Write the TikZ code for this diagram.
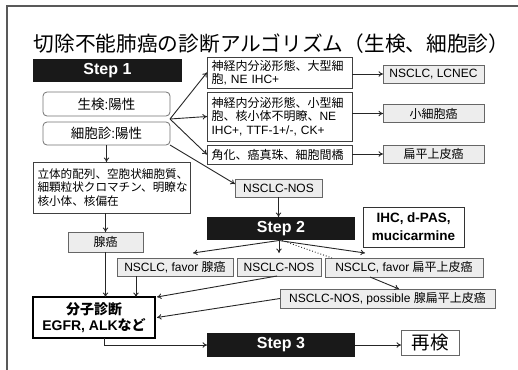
\documentclass[tikz,border=0pt]{standalone}
\usepackage{fontspec}
\setmainfont{Liberation Sans}
\newfontfamily\cjk{Noto Sans CJK JP}
\usetikzlibrary{arrows.meta,calc}
\begin{document}
\begin{tikzpicture}[x=1pt,y=-1pt,
  every node/.style={inner sep=0pt, outer sep=0pt},
  gbox/.style={draw=black!60, fill=black!7, line width=0.8pt, font=\fontsize{12}{13.5}\selectfont, align=center},
  wbox/.style={draw=black!75, fill=white, line width=0.9pt, font=\fontsize{12}{13.5}\selectfont, align=left},
  rbox/.style={draw=black!55, fill=white, rounded corners=4pt, line width=0.8pt, font=\fontsize{13.5}{15}\selectfont},
  stepbox/.style={fill=black!90, text=white, font=\bfseries\fontsize{16}{18}\selectfont},
  arr/.style={-{To[length=4.5pt,width=5.5pt]}, line width=0.9pt, draw=black!85},
]
\useasboundingbox (0,0) rectangle (518,369);
\draw[black!65, line width=1.3pt] (7,375) -- (7,6) -- (525,6);

\node[font=\cjk\fontsize{20.7}{22}\selectfont] (title) at (271.5,44) {切除不能肺癌の診断アルゴリズム（生検、細胞診）};

% Step 1 column
\node[stepbox, minimum width=149pt, minimum height=23pt] (step1) at (107.5,70.5) {Step 1};
\node[rbox, minimum width=127pt, minimum height=24pt] (seiken) at (106.5,104) {{\cjk 生検}:{\cjk 陽性}};
\node[rbox, minimum width=127pt, minimum height=23pt] (saibou) at (106.5,133.5) {{\cjk 細胞診}:{\cjk 陽性}};
\node[wbox, font=\cjk\fontsize{11.6}{13.5}\selectfont, text width=148pt, inner xsep=4.5pt, minimum height=51pt] (rittai) at (111.5,187.5) {立体的配列、空胞状細胞質、\\細顆粒状クロマチン、明瞭な\\核小体、核偏在};
\node[gbox, minimum width=75pt, minimum height=20pt] (senga) at (105.5,242) {{\cjk 腺癌}};
\node[draw=black, fill=white, line width=1.1pt, minimum width=122pt, minimum height=41pt, align=center, font=\bfseries\fontsize{14}{15.5}\selectfont] (bunshi) at (94,317.5) {{\cjk 分子診断}\\EGFR, ALK{\cjk など}};

% middle column
\node[wbox, text width=136pt, inner xsep=4.5pt, minimum height=31pt] (boxA) at (279.5,72.5) {{\cjk 神経内分泌形態、大型細}\\{\cjk 胞}, NE IHC+};
\node[wbox, text width=136pt, inner xsep=4.5pt, minimum height=49pt] (boxB) at (279.5,116.5) {{\cjk 神経内分泌形態、小型細}\\{\cjk 胞、核小体不明瞭、}NE\\IHC+, TTF-1+/-, CK+};
\node[wbox, text width=136pt, inner xsep=4.5pt, minimum height=19pt] (boxC) at (279.5,154.5) {{\cjk 角化、癌真珠、細胞間橋}};

% results
\node[gbox, minimum width=101pt, minimum height=18pt] (lcnec) at (433.5,74) {NSCLC, LCNEC};
\node[gbox, minimum width=101pt, minimum height=18pt] (sclc) at (433.5,113.5) {{\cjk 小細胞癌}};
\node[gbox, minimum width=101pt, minimum height=18pt] (sq) at (433.5,154) {{\cjk 扁平上皮癌}};
\node[gbox, minimum width=87pt, minimum height=18pt] (nos1) at (278.5,188) {NSCLC-NOS};

% Step 2
\node[stepbox, minimum width=148pt, minimum height=23pt] (step2) at (281,228.5) {Step 2};
\node[draw=black!80, fill=white, line width=0.9pt, minimum width=101pt, minimum height=40pt, align=center, font=\bfseries\fontsize{13.5}{18}\selectfont] (ihc) at (413.5,227) {IHC, d-PAS,\\mucicarmine};
\node[gbox, minimum width=116pt, minimum height=18pt] (favad) at (175,267) {NSCLC, favor {\cjk 腺癌}};
\node[gbox, minimum width=84pt, minimum height=18pt] (nos2) at (279,267) {NSCLC-NOS};
\node[gbox, minimum width=158pt, minimum height=19pt] (favsq) at (404,267.5) {NSCLC, favor {\cjk 扁平上皮癌}};
\node[gbox, minimum width=215pt, minimum height=19pt] (possible) at (387.5,298.5) {NSCLC-NOS, possible {\cjk 腺扁平上皮癌}};

% Step 3
\node[stepbox, minimum width=148pt, minimum height=24pt] (step3) at (281,345) {Step 3};
\node[draw=black!60, fill=white, line width=0.8pt, minimum width=58pt, minimum height=25pt, font=\cjk\fontsize{18.5}{20}\selectfont] (saiken) at (430,342.5) {再検};

% connectors
\coordinate (fk) at (170,119);
\draw[arr] (fk) -- (boxA.west);
\draw[arr] (fk) -- (boxB.west);
\draw[arr] (fk) -- (boxC.west);
\draw[arr] (saibou.south east) -- ([yshift=4pt]nos1.west);
\draw[arr] (saibou.south) -- (saibou.south |- rittai.north);
\draw[arr] (rittai.south -| senga.north) -- (senga.north);
\draw[arr] (senga.south) -- (senga.south |- bunshi.north);
\coordinate (fa) at ($(favad.south west)+(19,0)$);
\draw[arr] (fa) -- (fa |- bunshi.north);
\draw[arr] (boxA.east |- lcnec.west) -- (lcnec.west);
\draw[arr] (boxB.east |- sclc.west) -- (sclc.west);
\draw[arr] (boxC.east |- sq.west) -- (sq.west);
\draw[arr] (nos1.south) -- (nos1.south |- step2.north);
\coordinate (s2) at (279,240.5);
\draw[arr] (s2) -- ($(favad.north)+(18,-5)$);
\draw[arr, shorten >=5pt] (s2) -- (nos2.north);
\draw[arr] (s2) -- ($(favsq.north west)+(40,-5)$);
\draw[dotted, line width=0.9pt, black!85] ($(s2)+(3,0)$) -- ($(favsq.north west)+(7,0)$);
\draw[arr] ($(favsq.south)+(-34,0)$) -- ($(possible.north)+(11.5,0)$);
\draw[arr] ($(nos2.south)+(-2,0)$) -- ([xshift=2pt]bunshi.north east);
\draw[arr] (possible.west) -- ([xshift=2pt]bunshi.east);
\draw[arr] ([xshift=10pt]bunshi.south) |- (step3.west);
\draw[arr] (step3.east) -- (step3.east -| saiken.west);
\end{tikzpicture}
\end{document}
